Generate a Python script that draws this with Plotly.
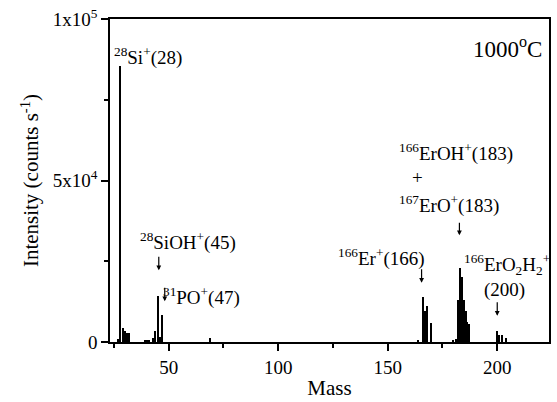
import plotly.graph_objects as go

# Mass spectrum stick data (mass, intensity counts/s)
masses = [27, 28, 29, 30, 31, 32, 39, 40, 41, 43, 44, 45, 46, 47, 69,
          164, 166, 167, 168, 170,
          180, 181, 182, 183, 184, 185, 185.7, 186.4, 187.3,
          200, 201, 202, 204]
intensity = [800, 85600, 4200, 3300, 2900, 2900, 500, 600, 500, 1200, 3300, 14100, 1500, 8400, 1300,
             700, 13800, 9600, 11100, 5800,
             700, 800, 13000, 22800, 20000, 13000, 9500, 6100, 5600,
             3500, 2300, 2300, 1200]

ytick_vals = [0, 50000, 100000]
ytick_text = ["0", "5x10<sup>4</sup>", "1x10<sup>5</sup>"]
xtick_vals = [50, 100, 150, 200]

FONT = "'Liberation Serif', 'Times New Roman', serif"

fig = go.Figure()
fig.add_trace(go.Bar(x=masses, y=intensity, width=0.55,
                     marker=dict(color="black", line=dict(width=0)),
                     showlegend=False))

def px2m(px):
    return 50 + (px - 169) / 2.2

def py2v(py):
    return (347 - py) / 333 * 1e5

ann = []
def label(text, left_px, cy_px, size=19, anchor="left"):
    ann.append(dict(x=px2m(left_px), y=py2v(cy_px), xref="x", yref="y", text=text,
                    showarrow=False, xanchor=anchor, yanchor="middle",
                    font=dict(family=FONT, size=size, color="black")))

def arrow(x_px, tip_py, length=15):
    ann.append(dict(x=px2m(x_px), y=py2v(tip_py), xref="x", yref="y", text="",
                    showarrow=True, ax=0, ay=-length, arrowhead=2, arrowsize=0.8,
                    arrowwidth=1.2, arrowcolor="black"))

label("<sup>28</sup>Si<sup>+</sup>(28)", 112, 53)
label("<sup>28</sup>SiOH<sup>+</sup>(45)", 138, 243)
label("<sup>31</sup>PO<sup>+</sup>(47)", 161, 300)
label("1000<sup>o</sup>C", 546, 43, size=23, anchor="right")
label("<sup>166</sup>ErOH<sup>+</sup>(183)", 398, 152)
label("+", 419, 177, anchor="center")
label("<sup>167</sup>ErO<sup>+</sup>(183)", 398, 205)
label("<sup>166</sup>Er<sup>+</sup>(166)", 337, 260)
label("<sup>166</sup>ErO<sub>2</sub>H<sub>2</sub><sup>+</sup>", 464, 267)
label("(200)", 484, 293)

arrow(159, 273)
arrow(165, 305)
arrow(461, 237, 14)
arrow(423, 286)
arrow(499, 320)

fig.update_layout(
    width=557, height=402,
    margin=dict(l=110, r=6, t=14, b=55),
    plot_bgcolor="white", paper_bgcolor="white",
    bargap=0,
    annotations=ann,
    font=dict(family=FONT, size=19, color="black"),
    xaxis=dict(range=[px2m(110), px2m(551)], tickvals=xtick_vals,
               showgrid=False, zeroline=False, showline=True, linecolor="black", linewidth=1.5,
               mirror=True, ticks="outside", ticklen=7, tickwidth=1.5, tickcolor="black",
               minor=dict(tickvals=[25, 75, 125, 175], ticks="outside", ticklen=4, tickwidth=1.5, tickcolor="black"),
               title=dict(text="Mass", font=dict(family=FONT, size=21), standoff=4),
               tickfont=dict(family=FONT, size=19)),
    yaxis=dict(range=[0, 100000], tickvals=ytick_vals, ticktext=ytick_text,
               showgrid=False, zeroline=False, showline=True, linecolor="black", linewidth=1.5,
               mirror=True, ticks="outside", ticklen=7, tickwidth=1.5, tickcolor="black",
               minor=dict(tickvals=[25000, 75000], ticks="outside", ticklen=4, tickwidth=1.5, tickcolor="black"),
               title=dict(text="Intensity (counts s<sup>-1</sup>)", font=dict(family=FONT, size=21), standoff=8),
               tickfont=dict(family=FONT, size=19)),
)

fig.write_html("out.html")
